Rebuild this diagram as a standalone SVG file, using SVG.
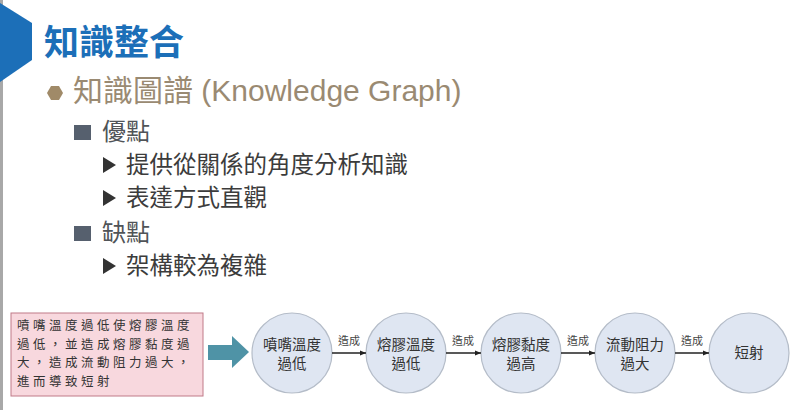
<svg xmlns="http://www.w3.org/2000/svg" width="805" height="410" viewBox="0 0 805 410">
<style>
.cjk{font-family:"Noto Sans CJK TC","Noto Sans CJK SC",sans-serif}
.title{font-size:35px;font-weight:bold;fill:#1c6fb8}
.l1{font-family:"Liberation Sans","Noto Sans CJK TC",sans-serif;font-size:30px;fill:#9a8a72}
.l2{font-size:24px;fill:#505458}
.l3{font-size:23.5px;fill:#3c3c3c}
.sq{fill:#56606e}
.tri{fill:#333}
.node circle{fill:#dfe6f2;stroke:#b4bcc8;stroke-width:1.2}
.node text{font-size:14.5px;fill:#333;text-anchor:middle}
.lbl{font-size:11px;fill:#444;text-anchor:middle}
.edge{stroke:#222;stroke-width:1.3;fill:none}
.note{font-size:12.5px;fill:#333;letter-spacing:3.5px}
</style>
<defs>
<marker id="ah" viewBox="0 0 10 10" refX="10" refY="5" markerWidth="5" markerHeight="5" orient="auto">
<path d="M0,1 L10,5 L0,9 z" fill="#222"/>
</marker>
</defs>
<rect width="805" height="410" fill="#fff"/>
<rect x="0" y="0" width="3" height="410" fill="#a8a8a8"/>
<polygon points="0,3 32,23 32,60 0,82" fill="#1c6fb8"/>
<text class="cjk title" x="44" y="55">知識整合</text>
<polygon points="47,93 51,86 59,86 63,93 59,100 51,100" fill="#a08a68"/>
<text class="l1" x="73" y="101">知識圖譜 (Knowledge Graph)</text>
<rect class="sq" x="74" y="125" width="17" height="15"/>
<text class="cjk l2" x="102" y="140">優點</text>
<polygon class="tri" points="103,157 116,165 103,173"/>
<text class="cjk l3" x="126" y="173">提供從關係的角度分析知識</text>
<polygon class="tri" points="103,190 116,198 103,206"/>
<text class="cjk l3" x="126" y="206">表達方式直觀</text>
<rect class="sq" x="74" y="226" width="17" height="15"/>
<text class="cjk l2" x="102" y="241">缺點</text>
<polygon class="tri" points="103,258 116,266 103,274"/>
<text class="cjk l3" x="126" y="274">架構較為複雜</text>
<g id="note">
<rect x="11" y="313" width="192" height="83" fill="#f8d8de" stroke="#c07a88" stroke-width="1"/>
<text class="cjk note" x="17" y="330">噴嘴溫度過低使熔膠溫度</text>
<text class="cjk note" x="17" y="348.5">過低，並造成熔膠黏度過</text>
<text class="cjk note" x="17" y="367">大，造成流動阻力過大，</text>
<text class="cjk note" x="17" y="385.5">進而導致短射</text>
</g>
<polygon id="bigarrow" points="208,345 232,345 232,336 249,352 232,368 232,360 208,360" fill="#4f93a6"/>
<g id="n1" class="node cjk"><circle cx="292" cy="353" r="40"/><text x="292" y="350">噴嘴溫度</text><text x="292" y="369">過低</text></g>
<g id="n2" class="node cjk"><circle cx="406" cy="353" r="40"/><text x="406" y="350">熔膠溫度</text><text x="406" y="369">過低</text></g>
<g id="n3" class="node cjk"><circle cx="521" cy="353" r="40"/><text x="521" y="350">熔膠黏度</text><text x="521" y="369">過高</text></g>
<g id="n4" class="node cjk"><circle cx="635" cy="353" r="40"/><text x="635" y="350">流動阻力</text><text x="635" y="369">過大</text></g>
<g id="n5" class="node cjk"><circle cx="749" cy="353" r="40"/><text x="749" y="358">短射</text></g>
<g id="edges">
<line class="edge" x1="332" y1="353" x2="366" y2="353" marker-end="url(#ah)"/>
<line class="edge" x1="446" y1="353" x2="481" y2="353" marker-end="url(#ah)"/>
<line class="edge" x1="561" y1="353" x2="595" y2="353" marker-end="url(#ah)"/>
<line class="edge" x1="675" y1="353" x2="709" y2="353" marker-end="url(#ah)"/>
<text class="cjk lbl" x="349" y="345">造成</text>
<text class="cjk lbl" x="463" y="345">造成</text>
<text class="cjk lbl" x="578" y="345">造成</text>
<text class="cjk lbl" x="692" y="345">造成</text>
</g>
</svg>
